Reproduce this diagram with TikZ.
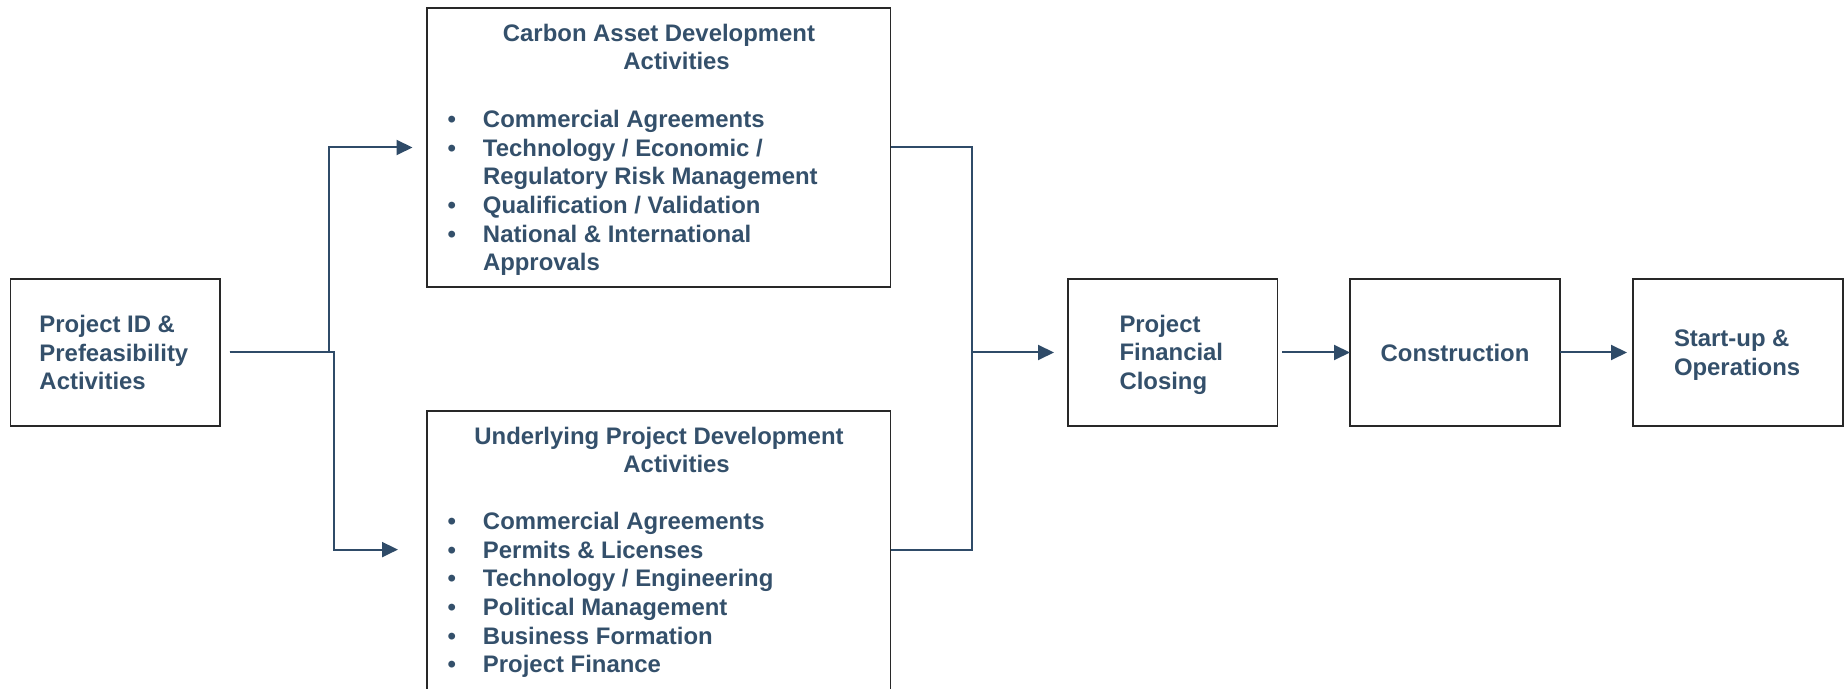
\documentclass[tikz,border=0pt]{standalone}
\usepackage{fontspec}
\setmainfont{Liberation Sans}
\usetikzlibrary{arrows.meta}
\definecolor{txtc}{RGB}{52,80,107}
\definecolor{arrc}{RGB}{47,75,104}
\definecolor{boxc}{RGB}{40,40,40}
\newcommand{\bitem}[1]{\makebox[17.75pt][l]{•}#1}
\newcommand{\bcont}[1]{\hspace*{17.75pt}#1}
\begin{document}
\begin{tikzpicture}[x=0.5pt,y=-0.5pt,
  box/.style={draw=boxc, line width=0.6pt, rectangle, inner sep=0pt, outer sep=0pt},
  txt/.style={font=\fontsize{11.95}{14.35}\selectfont\bfseries, text=txtc, inner sep=0pt, outer sep=0pt},
  conn/.style={draw=arrc, line width=1pt},
  arr/.style={conn, -{Triangle[length=8pt,width=7.5pt]}}]
\useasboundingbox (0,0) rectangle (1844,689);
\fill[white] (0,0) rectangle (1844,689);
\begin{scope}
\clip (0,0) rectangle (1844,689);
% boxes
\node[box, minimum width=104.7pt, minimum height=73.5pt] (pid) at (115.3,352.5) {};
\node[box, minimum width=231.75pt, minimum height=139.5pt] (carbon) at (658.75,147.5) {};
\node[box, minimum width=231.75pt, minimum height=154.5pt] (under) at (658.75,565.5) {};
\node[box, minimum width=104.75pt, minimum height=73.5pt] (pfc) at (1172.75,352.5) {};
\node[box, minimum width=105pt, minimum height=73.5pt] (cons) at (1455,352.5) {};
\node[box, minimum width=105pt, minimum height=73.5pt] (start) at (1738,352.5) {};
% texts
\node[txt, anchor=base west] (pidT) at (39.5,332.6) {\parbox[t]{100pt}{Project ID \&\\Prefeasibility\\Activities}};
\node[txt, anchor=base] (carbonT1) at (659,41.7) {Carbon Asset Development};
\node[txt, anchor=base] (carbonT2) at (676.6,69.4) {Activities};
\node[txt, anchor=base west] (carbonL) at (447.5,127.4) {\parbox[t]{220pt}{%
\bitem{Commercial Agreements}\\
\bitem{Technology / Economic /}\\
\bcont{Regulatory Risk Management}\\
\bitem{Qualification / Validation}\\
\bitem{National \& International}\\
\bcont{Approvals}}};
\node[txt, anchor=base] (underT1) at (659,444.6) {Underlying Project Development};
\node[txt, anchor=base] (underT2) at (676.6,473) {Activities};
\node[txt, anchor=base west] (underL) at (447.5,529.5) {\parbox[t]{220pt}{%
\bitem{Commercial Agreements}\\
\bitem{Permits \& Licenses}\\
\bitem{Technology / Engineering}\\
\bitem{Political Management}\\
\bitem{Business Formation}\\
\bitem{Project Finance}}};
\node[txt, anchor=base west] (pfcT) at (1119.5,332.3) {\parbox[t]{100pt}{Project\\Financial\\Closing}};
\node[txt, anchor=base] (consT) at (1455,361.7) {Construction};
\node[txt, anchor=base west] (startT) at (1674,346.7) {\parbox[t]{100pt}{Start-up \&\\Operations}};
% connectors
\coordinate (s) at ([xshift=4.75pt]pid.east);
\coordinate (ju) at (329,352.5);
\coordinate (jd) at (334,352.5);
\coordinate (uW) at ([yshift=-69.3pt]under.north west);
\coordinate (uE) at ([yshift=-69.3pt]under.north east);
\coordinate (mx) at (971.5,352.5);
\draw[arr, shorten >=7.25pt] (s) -- (ju) |- (carbon.west);
\draw[arr, shorten >=14.5pt] (s) -- (jd) |- (uW);
\draw[conn] (carbon.east) -| (mx) |- (uE);
\draw[arr, shorten >=7pt] (mx) -- (pfc.west);
\draw[arr, shorten <=2.4pt] (pfc.east) -- (cons.west);
\draw[arr, shorten >=3pt] (cons.east) -- (start.west);
\end{scope}
\end{tikzpicture}
\end{document}
